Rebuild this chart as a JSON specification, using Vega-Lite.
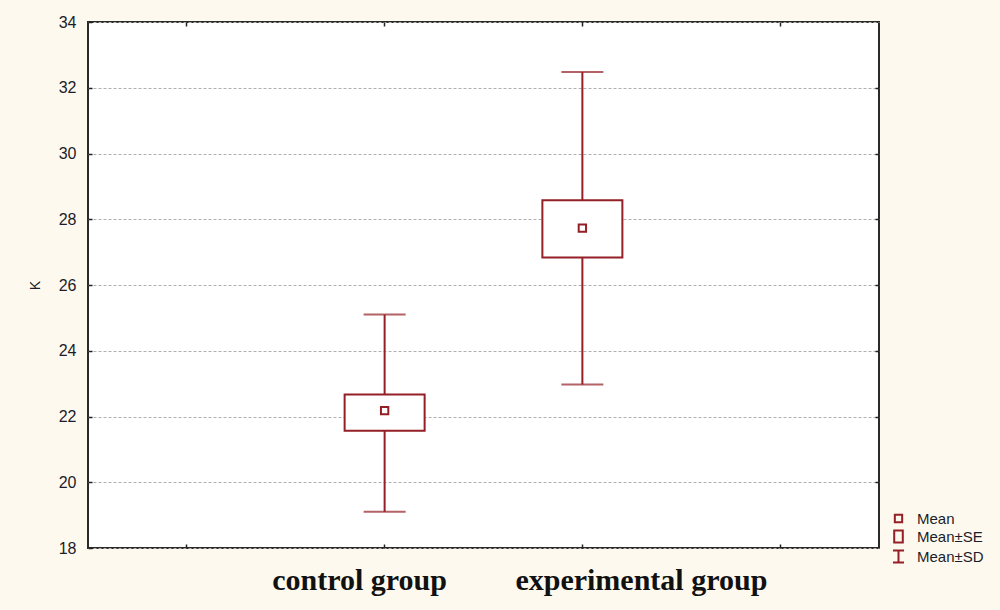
{
  "$schema": "https://vega.github.io/schema/vega-lite/v6.json",
  "autosize": "none",
  "width": 791,
  "height": 526,
  "padding": {"left": 88, "top": 22, "right": 121, "bottom": 62},
  "background": "#fef9ee",
  "config": {
    "view": {"fill": "white", "stroke": "#2a2a2a", "strokeWidth": 2},
    "axis": {"domain": false, "tickColor": "#222222", "tickWidth": 1.5}
  },
  "data": {
    "values": [
      {"group": "control group", "mean": 22.18, "se_low": 21.57, "se_high": 22.67, "sd_low": 19.1, "sd_high": 25.1},
      {"group": "experimental group", "mean": 27.73, "se_low": 26.84, "se_high": 28.58, "sd_low": 22.97, "sd_high": 32.48}
    ]
  },
  "resolve": {"axis": {"x": "independent", "y": "independent"}},
  "layer": [
    {
      "mark": {"type": "rule", "color": "#951f26", "strokeWidth": 2},
      "encoding": {
        "x": {
          "field": "group", "type": "nominal",
          "scale": {"domain": ["_a", "control group", "experimental group", "_b"], "paddingInner": 0, "paddingOuter": 0},
          "axis": {
            "orient": "bottom", "title": null, "labelAngle": 0,
            "tickSize": -4, "labelPadding": 21, "labelLimit": 0,
            "labelFont": "Liberation Serif", "labelFontWeight": "bold", "labelFontSize": 30, "labelColor": "#111111",
            "labelExpr": "indexof(['control group','experimental group'], datum.value) >= 0 ? datum.label : ''",
            "labelOffset": {"condition": {"test": "datum.value === 'control group'", "value": -25}, "value": 59}
          }
        },
        "y": {
          "field": "sd_low", "type": "quantitative",
          "scale": {"domain": [18, 34], "nice": false, "zero": false},
          "axis": {
            "orient": "left", "title": "K", "values": [18, 20, 22, 24, 26, 28, 30, 32, 34],
            "tickSize": -4, "labelPadding": 16,
            "labelFont": "Liberation Sans", "labelFontSize": 16, "labelColor": "#1c1c2a",
            "titleFont": "Liberation Sans", "titleFontSize": 14, "titleFontWeight": "normal", "titleColor": "#1c1c2a", "titlePadding": 16,
            "grid": true, "gridColor": "#b0b0b0", "gridDash": [3, 2], "gridWidth": 1
          }
        },
        "y2": {"field": "sd_high"}
      }
    },
    {
      "mark": {"type": "tick", "color": "#951f26", "size": 42, "thickness": 2},
      "encoding": {
        "x": {"field": "group", "type": "nominal", "axis": {"orient": "top", "title": null, "labels": false, "tickSize": -4}},
        "y": {"field": "sd_low", "type": "quantitative", "axis": {"orient": "right", "title": null, "labels": false, "tickSize": -4, "values": [20, 22, 24, 26, 28, 30, 32], "grid": false}}
      }
    },
    {
      "mark": {"type": "tick", "color": "#951f26", "size": 42, "thickness": 2},
      "encoding": {
        "x": {"field": "group", "type": "nominal", "axis": null},
        "y": {"field": "sd_high", "type": "quantitative", "axis": null}
      }
    },
    {
      "mark": {"type": "bar", "fill": "white", "stroke": "#951f26", "strokeWidth": 2, "width": 80},
      "encoding": {
        "x": {"field": "group", "type": "nominal", "axis": null},
        "y": {"field": "se_low", "type": "quantitative", "axis": null},
        "y2": {"field": "se_high"}
      }
    },
    {
      "mark": {"type": "point", "filled": false, "color": "#951f26", "strokeWidth": 2, "size": 150, "opacity": 1},
      "encoding": {
        "x": {"field": "group", "type": "nominal", "axis": null},
        "y": {"field": "mean", "type": "quantitative", "axis": null},
        "shape": {
          "datum": "Mean",
          "scale": {
            "domain": ["Mean", "Mean±SE", "Mean±SD"],
            "range": ["M-0.6,-0.6H0.6V0.6H-0.6Z", "M-0.7,-1H0.7V1H-0.7Z", "M-0.9,-1H0.9M0,-1V1M-0.9,1H0.9"]
          },
          "legend": {
            "title": null, "orient": "none", "legendX": 803, "legendY": 489,
            "symbolSize": 150, "symbolStrokeColor": "#951f26", "symbolStrokeWidth": 2, "symbolFillColor": "transparent",
            "labelFont": "Liberation Sans", "labelFontSize": 15, "labelColor": "#1c1c2a", "labelOffset": 11,
            "rowPadding": -1
          }
        }
      }
    }
  ]
}
